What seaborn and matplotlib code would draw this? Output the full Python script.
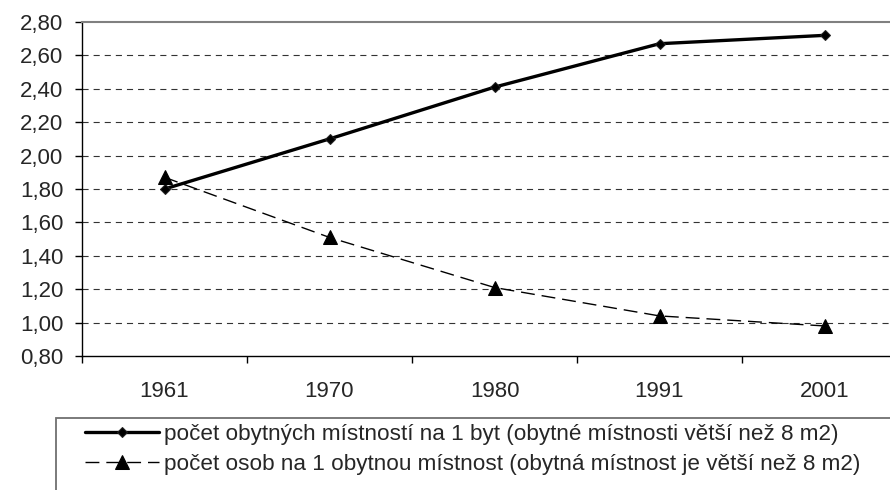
import numpy as np
import matplotlib
matplotlib.use("Agg")
import matplotlib.pyplot as plt
import seaborn as sns
from matplotlib.patches import Rectangle
from matplotlib.ticker import FuncFormatter

years = ["1961", "1970", "1980", "1991", "2001"]
rooms_per_flat = [1.80, 2.10, 2.41, 2.67, 2.72]
persons_per_room = [1.87, 1.51, 1.21, 1.04, 0.98]
label_rooms = "počet obytných místností na 1 byt (obytné místnosti větší než 8 m2)"
label_persons = "počet osob na 1 obytnou místnost (obytná místnost je větší než 8 m2)"
y_ticks = [0.80, 1.00, 1.20, 1.40, 1.60, 1.80, 2.00, 2.20, 2.40, 2.60, 2.80]

sns.set_style("white")
plt.rcParams["font.family"] = ["Liberation Sans", "DejaVu Sans"]

W, H = 890, 490
fig = plt.figure(figsize=(8.9, 4.9), dpi=100)
# plot area runs past the right edge of the picture, as in the original crop
ax = fig.add_axes([82 / W, 1 - 356 / H, 825 / W, 334 / H])

x = np.arange(len(years))
sns.lineplot(x=x, y=rooms_per_flat, ax=ax, color="black", linewidth=2.4,
             marker="D", markersize=5, markeredgecolor="#222222",
             label=label_rooms, legend=False)
sns.lineplot(x=x, y=persons_per_room, ax=ax, color="black", linewidth=1.0,
             dashes=False, marker="^", markersize=10, markeredgecolor="black",
             label=label_persons, legend=False)
ax.lines[1].set_dashes((10, 5))

ax.set_xlim(-0.5, len(years) - 0.5)
ax.set_ylim(0.80, 2.80)
ax.set_yticks(y_ticks)
ax.yaxis.set_major_formatter(FuncFormatter(lambda v, p: f"{v:.2f}".replace(".", ",")))
ax.set_xticks(x)
ax.set_xticklabels(years)
ax.set_xticks(np.arange(len(years) + 1) - 0.5, minor=True)

ax.tick_params(axis="y", which="major", direction="out", length=5, width=1,
               color="black", pad=8.5, labelsize=16, left=True)
ax.tick_params(axis="x", which="major", length=0, pad=18, labelsize=16)
ax.tick_params(axis="x", which="minor", direction="out", length=5, width=1,
               color="black", bottom=True)

ax.yaxis.grid(True, linestyle=(0, (5.5, 4.5)), color="#333333", linewidth=0.8)
ax.get_ygridlines()[-1].set_visible(False)
ax.get_ygridlines()[0].set_visible(False)
ax.set_axisbelow(True)

for side in ["left", "bottom"]:
    ax.spines[side].set_color("black")
    ax.spines[side].set_linewidth(1.0)
ax.spines["top"].set_color("#808080")
ax.spines["top"].set_linewidth(1.5)
ax.spines["right"].set_visible(False)

# legend box, clipped by the picture edges like the reference
fig.patches.append(Rectangle((56 / W, -0.1), 1.0, 1 - 418 / H + 0.1,
                             transform=fig.transFigure, fill=False,
                             edgecolor="#707070", linewidth=1.3))
handles = ax.lines[:2]
fig.legend(handles, [label_rooms, label_persons], loc="upper left",
           bbox_to_anchor=(85 / W, 1 - 424 / H), frameon=False, fontsize=16.2,
           handlelength=3.3, handletextpad=0.22, labelspacing=0.4,
           borderpad=0, borderaxespad=0)

fig.savefig("out.png", dpi=100)
